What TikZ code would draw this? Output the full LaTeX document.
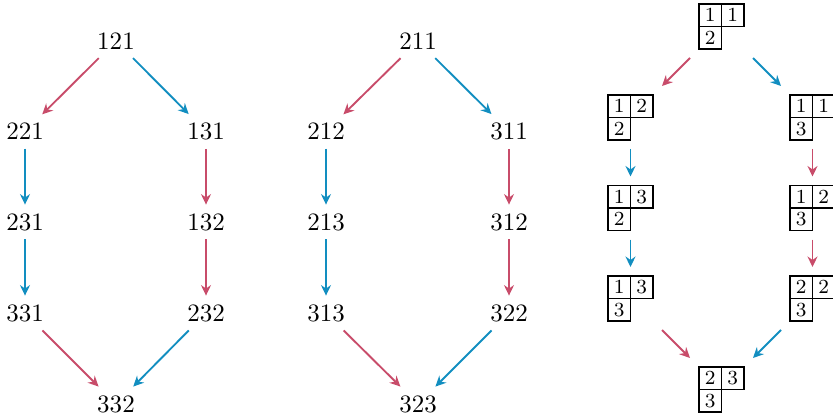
\documentclass[tikz,border=0pt]{standalone}
\usetikzlibrary{arrows.meta}
\definecolor{myred}{RGB}{200,76,106}
\definecolor{myblue}{RGB}{18,142,192}
\tikzset{
  lbl/.style={font=\normalsize, inner sep=3.33pt},
  tabnode/.style={minimum width=18pt+7.2pt, minimum height=18pt+7.2pt, inner sep=0pt, outer sep=0pt},
  cellbox/.style={draw=black, line width=0.45pt},
  celltxt/.style={font=\footnotesize, inner sep=0pt},
  redarr/.style={draw=myred, line width=0.75pt, -{Stealth[length=4.2pt,width=4pt,inset=1.4pt]}},
  bluearr/.style={draw=myblue, line width=0.75pt, -{Stealth[length=4.2pt,width=4pt,inset=1.4pt]}},
}
% tableau: name, position, a, b, c
\newcommand\mytab[5]{%
  \node[tabnode] (#1) at (#2) {};
  \draw[cellbox] ([shift={(-9pt,9pt)}]#1.center) rectangle ([shift={(0pt,0pt)}]#1.center);
  \draw[cellbox] ([shift={(0pt,9pt)}]#1.center) rectangle ([shift={(9pt,0pt)}]#1.center);
  \draw[cellbox] ([shift={(-9pt,0pt)}]#1.center) rectangle ([shift={(0pt,-9pt)}]#1.center);
  \node[celltxt] at ([shift={(-4.5pt,4.5pt)}]#1.center) {#3};
  \node[celltxt] at ([shift={(4.5pt,4.5pt)}]#1.center) {#4};
  \node[celltxt] at ([shift={(-4.5pt,-4.5pt)}]#1.center) {#5};
}
\begin{document}
\begin{tikzpicture}[x=0.4pt,y=-0.4pt]
\useasboundingbox (0,0) rectangle (833,419);
\clip (0,0) rectangle (833,419);
% diagram 1
\node[lbl] (a0) at (116,41) {121};
\node[lbl] (a1) at (25,131.5) {221};
\node[lbl] (a2) at (206,131.5) {131};
\node[lbl] (a3) at (25,222) {231};
\node[lbl] (a4) at (206,222) {132};
\node[lbl] (a5) at (25,313) {331};
\node[lbl] (a6) at (206,313) {232};
\node[lbl] (a7) at (116,404) {332};
\draw[redarr] (a0) -- (a1);
\draw[bluearr] (a0) -- (a2);
\draw[bluearr] (a1) -- (a3);
\draw[bluearr] (a3) -- (a5);
\draw[redarr] (a2) -- (a4);
\draw[redarr] (a4) -- (a6);
\draw[redarr] (a5) -- (a7);
\draw[bluearr] (a6) -- (a7);
% diagram 2
\node[lbl] (b0) at (418,41) {211};
\node[lbl] (b1) at (326,131.5) {212};
\node[lbl] (b2) at (509,131.5) {311};
\node[lbl] (b3) at (326,222) {213};
\node[lbl] (b4) at (509,222) {312};
\node[lbl] (b5) at (326,313) {313};
\node[lbl] (b6) at (509,313) {322};
\node[lbl] (b7) at (418,404) {323};
\draw[redarr] (b0) -- (b1);
\draw[bluearr] (b0) -- (b2);
\draw[bluearr] (b1) -- (b3);
\draw[bluearr] (b3) -- (b5);
\draw[redarr] (b2) -- (b4);
\draw[redarr] (b4) -- (b6);
\draw[redarr] (b5) -- (b7);
\draw[bluearr] (b6) -- (b7);
% diagram 3
\mytab{c0}{721.5,26.5}{1}{1}{2}
\mytab{c1}{630.5,117.5}{1}{2}{2}
\mytab{c2}{812.5,117.5}{1}{1}{3}
\mytab{c3}{630.5,208}{1}{3}{2}
\mytab{c4}{812.5,208}{1}{2}{3}
\mytab{c5}{630.5,298.5}{1}{3}{3}
\mytab{c6}{812.5,298.5}{2}{2}{3}
\mytab{c7}{721.5,389.5}{2}{3}{3}
\draw[redarr] (c0) -- (c1);
\draw[bluearr] (c0) -- (c2);
\draw[bluearr] (c1) -- (c3);
\draw[bluearr] (c3) -- (c5);
\draw[redarr] (c2) -- (c4);
\draw[redarr] (c4) -- (c6);
\draw[redarr] (c5) -- (c7);
\draw[bluearr] (c6) -- (c7);
\end{tikzpicture}
\end{document}
